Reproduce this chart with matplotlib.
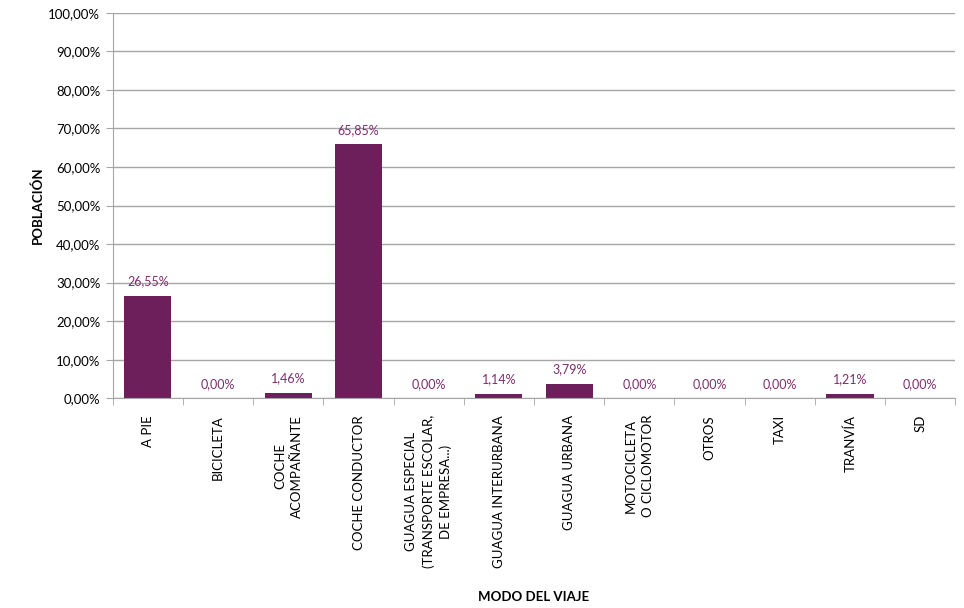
import matplotlib
matplotlib.use("Agg")
import matplotlib.pyplot as plt
from matplotlib.ticker import FuncFormatter, MultipleLocator
import numpy as np

plt.rcParams['font.family'] = ['Lato', 'DejaVu Sans']

modos = ['A PIE', 'BICICLETA', 'COCHE\nACOMPAÑANTE', 'COCHE CONDUCTOR',
         'GUAGUA ESPECIAL\n(TRANSPORTE ESCOLAR,\nDE EMPRESA...)',
         'GUAGUA INTERURBANA', 'GUAGUA URBANA', 'MOTOCICLETA\nO CICLOMOTOR',
         'OTROS', 'TAXI', 'TRANVÍA', 'SD']
poblacion = [26.55, 0.00, 1.46, 65.85, 0.00, 1.14, 3.79, 0.00, 0.00, 0.00, 1.21, 0.00]

bar_color = '#6C1F5A'
label_color = '#7E2E6C'
grid_color = '#A6A6A6'

fig = plt.figure(figsize=(9.64, 6.08), dpi=100)
ax = fig.add_axes([0.117, 0.345, 0.874, 0.634])

x = np.arange(len(modos))
ax.bar(x, poblacion, width=0.67, color=bar_color, zorder=3)

for xi, v in zip(x, poblacion):
    ax.annotate(f"{v:.2f}%".replace('.', ','), (xi, v), xytext=(0, 6),
                textcoords='offset points', ha='center', va='bottom',
                fontsize=9, color=label_color)

ax.set_xlim(-0.5, len(modos) - 0.5)
ax.set_ylim(0, 100)
ax.yaxis.set_major_locator(MultipleLocator(10))
ax.yaxis.set_major_formatter(FuncFormatter(lambda v, p: f"{v:.2f}%".replace('.', ',')))
ax.grid(axis='y', color=grid_color, linewidth=1, zorder=0)

ax.set_xticks(x)
ax.set_xticklabels(modos, rotation=90, fontsize=9.5, va='top', ha='center',
                   multialignment='center', linespacing=1.45)
ax.set_xticks(np.arange(-0.5, len(modos)), minor=True)
ax.tick_params(axis='x', which='major', length=0, pad=12)
ax.tick_params(axis='x', which='minor', length=5, color=grid_color)
ax.tick_params(axis='y', length=5, color=grid_color, labelsize=9.5, pad=4)

for s in ['top', 'right']:
    ax.spines[s].set_visible(False)
for s in ['left', 'bottom']:
    ax.spines[s].set_color(grid_color)
    ax.spines[s].set_zorder(4)

ax.set_ylabel('POBLACIÓN', fontsize=9.5, fontweight='bold', labelpad=3)
fig.text(0.554, 0.018, 'MODO DEL VIAJE', fontsize=9.5, fontweight='bold',
         ha='center', va='center')

fig.savefig('out.png', dpi=100)
